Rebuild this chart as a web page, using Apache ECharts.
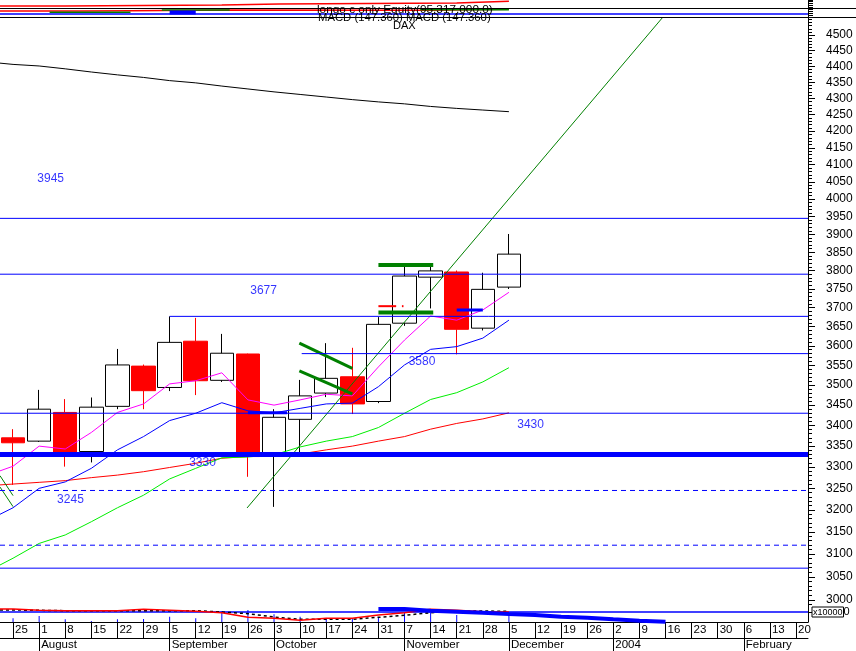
<!DOCTYPE html>
<html><head><meta charset="utf-8">
<script src="https://cdn.jsdelivr.net/npm/echarts@6/dist/echarts.min.js"></script>
<style>html,body{margin:0;padding:0;background:#fff}#c{width:856px;height:651px}</style>
</head><body><div id="c"></div>
<script>
// ---------------- DATA ----------------
const weekLabels = ['25','1','8','15','22','29','5','12','19','26','3','10','17','24','31','7','14','21','28','5','12','19','26','2','9','16','23','30','6','13','20'];
const monthTicks = [1, 6, 10, 15, 19, 23, 28];
const monthNames = ['August','September','October','November','December','2004','February'];
const priceTicks = [3000,3050,3100,3150,3200,3250,3300,3350,3400,3450,3500,3550,3600,3650,3700,3750,3800,3850,3900,3950,4000,4050,4100,4150,4200,4250,4300,4350,4400,4450,4500];

const candleIdx = [0,1,2,3,4,5,6,7,8,9,10,11,12,13,14,15,16,17,18,19];
const opens  = [3370,3362,3432,3337,3447,3548,3494,3612,3512,3579,3333,3415,3480,3521,3459,3659,3782,3796,3646,3755];
const closes = [3358,3440,3335,3445,3551,3486,3609,3511,3581,3325,3420,3473,3517,3453,3656,3785,3799,3643,3749,3845];
const lows   = [3258,3360,3301,3311,3440,3440,3485,3475,3508,3277,3207,3335,3470,3428,3455,3652,3698,3578,3640,3750];
const highs  = [3391,3488,3465,3469,3592,3552,3677,3673,3631,3580,3440,3513,3607,3595,3675,3810,3812,3800,3794,3901];

const maX    = [-0.5,0,1,2,3,4,5,6,7,8,9,10,11,12,13,14,15,16,17,18,19];
const maFast = [3291,3302,3350,3343,3383,3432,3453,3503,3511,3531,3463,3450,3463,3477,3473,3546,3615,3678,3667,3694,3741];
const maMid  = [3190,3205,3250,3265,3297,3341,3373,3412,3430,3456,3436,3431,3442,3453,3455,3496,3551,3591,3598,3620,3667];
const maSlow = [3076,3091,3124,3143,3173,3205,3234,3272,3297,3322,3324,3329,3348,3362,3373,3395,3430,3464,3481,3508,3544];
const maLong = [3258,3260,3264,3268,3275,3281,3289,3299,3309,3321,3325,3329,3331,3341,3350,3362,3373,3391,3405,3416,3431];
const maVeryLong = [4410,4406,4401,4392,4382,4373,4365,4355,4348,4338,4329,4320,4312,4304,4296,4289,4283,4275,4269,4264,4259];

const levelValues = [3945, 3790, 3677, 3580, 3430, 3330, 3245, 3120, 3069];
const levelStart  = [-0.5, -0.5, 6, 11.06, -0.5, -0.5, -0.5, -0.5, -0.5];
const levelTexts  = ['3945', '3677', '3580', '3430', '3330', '3245'];

const trendX = [8.966, 24.904];
const trendY = [3204.5, 4558.5];
const channelA = [[10.97, 3607], [13.0, 3542]];
const channelB = [[10.97, 3536], [13.0, 3478]];
const leftLineA = [[-0.5, 3279.6], [0.0, 3233]];
const leftLineB = [[-0.5, 3253], [0.0, 3207.5]];
const greenHigh = [[14.0, 3815], [16.1, 3815]];
const greenLow  = [[14.0, 3687], [16.1, 3687]];
const redMark   = [[14.0, 3704], [14.68, 3704]];
const redDot    = [[14.9, 3704], [14.96, 3704]];
const blueMarkA = [[9.0, 3431], [10.5, 3431]];
const blueMarkB = [[17.0, 3694], [18.0, 3694]];

const macdX     = [-0.5,0,1,2,3,4,5,6,7,8,9,10,11,12,13,14,15,16,17,18,19];
const macdLine  = [3,3,1.7,1.3,1.3,1.3,2.7,1.7,0.7,-0.7,-5.3,-6.3,-8.3,-6.3,-6.3,-3,-0.7,2.7,1.7,0.3,0];
const macdSignal= [2,2,1.7,1.3,1.3,1.3,1.3,1.3,1.3,0,-1.7,-5,-7.3,-7.3,-7.3,-5.3,-3.3,-0.7,1,1,0.7];
const macdProjX = [14,15,16,17,18,19,20,21,22,23,24,25];
const macdProj  = [3,1.3,0.3,-0.7,-2,-3,-4.7,-5.7,-7.3,-8.7,-9.7,-9.7];
const macdHist  = [3.7,6,2.7,1,2.7,3,5.3,3.7,11,12,7.7,5.3,4,3.3,5,9.3,9.3,7,0,7];

const equityX   = [-0.5, 2, 8, 10.2, 17, 19];
const equity    = [11, 12, 13, 14, 15.7, 15.7];
const equity2X  = [-0.5, 2.6, 4.5, 8.3, 16, 19];
const equity2   = [6, 6.3, 7, 6.7, 7.7, 7.7];
const equity3X  = [1.4, 4.5, null, 5.7, 8.3, null, 15.6, 19];
const equity3   = [4.7, 4.7, null, 7, 7, null, 7.3, 7.3];
const equityBase = 3;

// ---------------- LAYOUT / STYLE ----------------
const XMIN = -0.5, XMAX = 30.46;
const FONT = "'Liberation Sans', Arial, sans-serif";
const BLUE = '#0000ff', RED = '#ff0000', MAG = '#ff00ff', LGREEN = '#00ee00', DGREEN = '#008000';
const annotPos = [[1.44, 4058], [9.6, 3744.5], [15.67, 3558.5], [19.83, 3401], [7.26, 3310], [2.2, 3223]];
const minorTicks = [];
for (let v = 2990; v <= 4550; v += 10) minorTicks.push(v);

const pair = (xs, ys) => xs.map((x, i) => (x === null ? [null, null] : [x, ys[i]]));
function seg(data, color, width, extra) {
  return Object.assign({ type: 'line', xAxisIndex: 0, yAxisIndex: 0, data: data, showSymbol: false, symbol: 'none',
    lineStyle: { color: color, width: width }, z: 4, silent: true, animation: false }, extra || {});
}

const series = [];
series.push({
  type: 'candlestick', xAxisIndex: 0, yAxisIndex: 0,
  data: candleIdx.map((x, i) => [x, opens[i], closes[i], lows[i], highs[i]]),
  encode: { x: 0, y: [1, 2, 3, 4] },
  barWidth: 24,
  itemStyle: { color: '#ffffff', color0: RED, borderColor: '#000000', borderColor0: RED, borderWidth: 1 },
  z: 2, animation: false
});
levelValues.forEach((v, i) => {
  const width = v === 3330 ? 5 : 1;
  const type = (v === 3245 || v === 3120) ? [5, 4] : 'solid';
  series.push(seg([[levelStart[i], v], [XMAX, v]], BLUE, width, { lineStyle: { color: BLUE, width: width, type: type }, z: 5 }));
});
series.push(seg(pair(maX, maVeryLong), '#000', 1));
series.push(seg(pair(maX, maLong), RED, 1));
series.push(seg(pair(maX, maSlow), LGREEN, 1));
series.push(seg(pair(maX, maMid), BLUE, 1));
series.push(seg(pair(maX, maFast), MAG, 1));
series.push(seg(pair(trendX, trendY), DGREEN, 1));
series.push(seg(leftLineA, DGREEN, 1));
series.push(seg(leftLineB, DGREEN, 1));
series.push(seg(channelA, DGREEN, 3));
series.push(seg(channelB, DGREEN, 3));
series.push(seg(greenHigh, DGREEN, 4));
series.push(seg(greenLow, DGREEN, 4));
series.push(seg(redMark, RED, 2));
series.push(seg(redDot, RED, 2));
series.push(seg(blueMarkA, BLUE, 3));
series.push(seg(blueMarkB, BLUE, 3));
series.push({
  type: 'scatter', xAxisIndex: 0, yAxisIndex: 0, symbolSize: 0, silent: true, animation: false, z: 6,
  data: annotPos.map((p, i) => ({ value: p, name: levelTexts[i] })),
  label: { show: true, position: 'inside', formatter: p => p.name, color: BLUE, fontSize: 12, fontFamily: FONT }
});
// MACD panel
series.push({ type: 'bar', xAxisIndex: 1, yAxisIndex: 3, data: pair(candleIdx, macdHist), barWidth: 1,
  itemStyle: { color: BLUE }, silent: true, animation: false, z: 2 });
series.push(seg([[XMIN, 0], [XMAX, 0]], BLUE, 1.5, { xAxisIndex: 1, yAxisIndex: 2 }));
series.push(seg(pair(macdX, macdSignal), '#000', 1.5, { xAxisIndex: 1, yAxisIndex: 2, lineStyle: { color: '#000', width: 1.5, type: [3, 3] } }));
series.push(seg(pair(macdX, macdLine), RED, 1.5, { xAxisIndex: 1, yAxisIndex: 2 }));
series.push(seg(pair(macdProjX, macdProj), BLUE, 4, { xAxisIndex: 1, yAxisIndex: 2, step: 'end' }));
// top equity strip
series.push(seg([[XMIN, equityBase], [XMAX, equityBase]], BLUE, 1.5, { xAxisIndex: 3, yAxisIndex: 4 }));
series.push(seg(pair(equityX, equity), RED, 1.5, { xAxisIndex: 3, yAxisIndex: 4, step: 'end' }));
series.push(seg(pair(equity2X, equity2), RED, 1.5, { xAxisIndex: 3, yAxisIndex: 4, step: 'end' }));
series.push(seg(pair(equity3X, equity3), DGREEN, 1.5, { xAxisIndex: 3, yAxisIndex: 4, connectNulls: false }));
series.push(seg([[6.0, 4.5], [7.0, 4.5]], BLUE, 4, { xAxisIndex: 3, yAxisIndex: 4 }));

const allIdx = weekLabels.map((_, i) => i);
const noZero = { onZero: false };
const option = {
  animation: false,
  backgroundColor: '#ffffff',
  textStyle: { fontFamily: FONT },
  grid: [
    { left: 0, right: 48, top: 17, bottom: 46 },
    { left: 0, right: 48, top: 600, bottom: 29 },
    { left: 0, right: 48, top: 0, height: 17 }
  ],
  xAxis: [
    { type: 'value', gridIndex: 0, min: XMIN, max: XMAX, show: false, axisLine: noZero },
    { type: 'value', gridIndex: 1, min: XMIN, max: XMAX, position: 'bottom',
      axisLine: { show: true, onZero: false, lineStyle: { color: '#000', width: 1 } },
      axisTick: { show: true, customValues: allIdx, length: 16, lineStyle: { color: '#000' } },
      axisLabel: { customValues: allIdx, formatter: v => weekLabels[Math.round(v)], align: 'left',
        padding: [0, 0, 0, 2], margin: 2, fontSize: 11.5, color: '#000', fontFamily: FONT },
      splitLine: { show: false } },
    { type: 'value', gridIndex: 1, min: XMIN, max: XMAX, position: 'bottom', offset: 16,
      axisLine: { show: true, onZero: false, lineStyle: { color: '#000', width: 1 } },
      axisTick: { show: true, customValues: monthTicks, length: 13, lineStyle: { color: '#000' } },
      axisLabel: { customValues: monthTicks, formatter: v => monthNames[monthTicks.indexOf(Math.round(v))], align: 'left',
        padding: [0, 0, 0, 2], margin: 1, fontSize: 11.5, color: '#000', fontFamily: FONT },
      splitLine: { show: false } },
    { type: 'value', gridIndex: 2, min: XMIN, max: XMAX, show: false, axisLine: noZero }
  ],
  yAxis: [
    { type: 'log', gridIndex: 0, position: 'right', min: 2988.9, max: 4558.5,
      axisLine: { show: true, onZero: false, lineStyle: { color: '#000' } },
      axisTick: { show: true, customValues: priceTicks, length: 7, lineStyle: { color: '#000' } },
      axisLabel: { customValues: priceTicks, formatter: v => String(Math.round(v)), margin: 18, fontSize: 12, color: '#000', fontFamily: FONT },
      splitLine: { show: false }, minorTick: { show: false } },
    { type: 'log', gridIndex: 0, position: 'right', min: 2988.9, max: 4558.5,
      axisLine: { show: false, onZero: false },
      axisTick: { show: true, customValues: minorTicks, length: 4, lineStyle: { color: '#000' } },
      axisLabel: { show: false }, splitLine: { show: false } },
    { type: 'value', gridIndex: 1, position: 'right', min: -10, max: 12,
      axisLine: { show: true, onZero: false, lineStyle: { color: '#000' } },
      axisTick: { show: true, customValues: [0], length: 4, lineStyle: { color: '#000' } },
      axisLabel: { customValues: [0], formatter: () => '{b|x10000}0', margin: 4, fontSize: 11, color: '#000', fontFamily: FONT,
        rich: { b: { fontSize: 9, borderColor: '#000', borderWidth: 1, padding: [1, 1, 0, 1], color: '#000', fontFamily: FONT } } },
      splitLine: { show: false } },
    { type: 'value', gridIndex: 1, min: 0, max: 22, show: false, axisLine: noZero },
    { type: 'value', gridIndex: 2, position: 'right', min: 0, max: 17, interval: 2,
      axisLine: { show: true, onZero: false, lineStyle: { color: '#000' } },
      axisTick: { show: true, length: 5, lineStyle: { color: '#000' } },
      axisLabel: { show: false }, splitLine: { show: false } }
  ],
  graphic: [
    { type: 'line', shape: { x1: 0, y1: 8.5, x2: 856, y2: 8.5 }, style: { stroke: '#000', lineWidth: 1 }, z: 10 },
    { type: 'line', shape: { x1: 0, y1: 17.5, x2: 856, y2: 17.5 }, style: { stroke: '#000', lineWidth: 1 }, z: 10 },
    { type: 'text', left: 317, top: 4, z: 11, style: { text: 'longo c only Equity(95,317,000.0)', font: '11.8px ' + FONT, fill: '#000' } },
    { type: 'text', left: 318, top: 12, z: 11, style: { text: 'MACD (147.360) MACD (147.360)', font: '11.3px ' + FONT, fill: '#000' } },
    { type: 'text', left: 393, top: 20, z: 11, style: { text: 'DAX', font: '11px ' + FONT, fill: '#000' } }
  ],
  series: series
};
const chart = echarts.init(document.getElementById('c'), null, { renderer: 'canvas' });
chart.setOption(option);
</script>
</body></html>
